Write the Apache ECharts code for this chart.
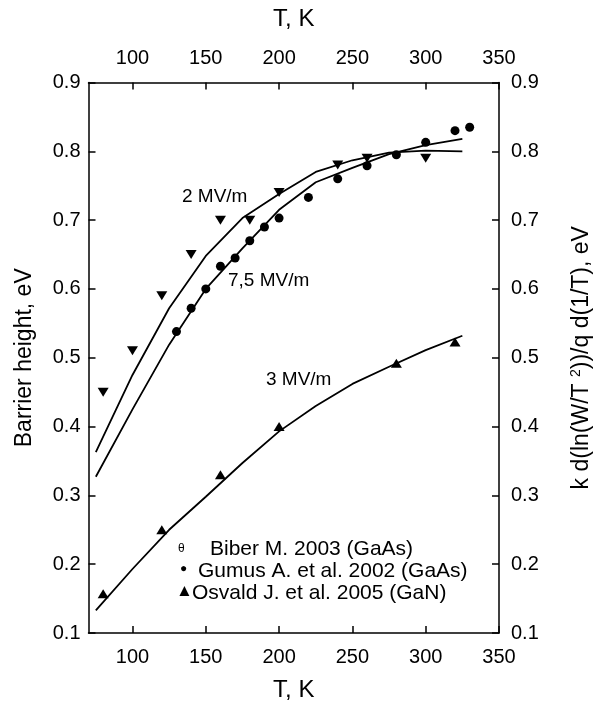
<!DOCTYPE html>
<html>
<head>
<meta charset="utf-8">
<script src="https://cdn.jsdelivr.net/npm/echarts@6/dist/echarts.min.js"></script>
<style>
  html, body { margin: 0; padding: 0; background: #fff; }
  #main { width: 599px; height: 709px; }
</style>
</head>
<body>
<div id="main"></div>
<script>
  // model curves, computed on a 25 K grid
  var curveT = [75, 100, 125, 150, 175, 200, 225, 250, 275, 300, 325];
  var curve2 = [0.363, 0.475, 0.572, 0.648, 0.703, 0.738, 0.770, 0.787, 0.798, 0.801, 0.800];
  var curve75 = [0.327, 0.425, 0.519, 0.600, 0.659, 0.715, 0.755, 0.776, 0.796, 0.809, 0.818];
  var curve3 = [0.133, 0.193, 0.250, 0.298, 0.347, 0.393, 0.430, 0.462, 0.487, 0.511, 0.532];

  // measured points
  var biberT = [80, 100, 120, 140, 160, 180, 200, 240, 260, 300];
  var biberV = [0.45, 0.51, 0.59, 0.65, 0.70, 0.70, 0.74, 0.78, 0.79, 0.79];
  var gumusT = [130, 140, 150, 160, 170, 180, 190, 200, 220, 240, 260, 280, 300, 320, 330];
  var gumusV = [0.538, 0.572, 0.600, 0.633, 0.645, 0.670, 0.690, 0.703, 0.733, 0.760, 0.779, 0.795, 0.813, 0.830, 0.835];
  var osvaldT = [80, 120, 160, 200, 280, 320];
  var osvaldV = [0.157, 0.250, 0.330, 0.400, 0.492, 0.523];

  var xTicks = [100, 150, 200, 250, 300, 350];

  function pairs(xs, ys) {
    return xs.map(function (x, i) { return [x, ys[i]]; });
  }

  var FONT = '"Liberation Sans", Arial, Helvetica, sans-serif';
  var myChart = echarts.init(document.getElementById('main'));

  function xAx(pos, gap) {
    return {
      type: 'value', position: pos, min: 70, max: 350,
      name: 'T, K', nameLocation: 'middle', nameGap: gap,
      nameTextStyle: { fontSize: 24, color: '#000', fontFamily: FONT },
      axisLine: { show: true, lineStyle: { color: '#000', width: 1.5 } },
      axisTick: { show: true, inside: true, length: 7, customValues: xTicks, lineStyle: { color: '#000', width: 1.5 } },
      axisLabel: { customValues: xTicks, margin: 14, fontSize: 20, color: '#000', fontFamily: FONT },
      splitLine: { show: false }
    };
  }

  function yAx(pos, name, gap, margin) {
    return {
      type: 'value', position: pos, min: 0.1, max: 0.9, interval: 0.1,
      name: name, nameLocation: 'middle', nameGap: gap,
      nameTextStyle: {
        fontSize: 23, color: '#000', fontFamily: FONT,
        rich: { sup: { fontSize: 14, verticalAlign: 'top', padding: [0, 0, 12, 0], fontFamily: FONT, color: '#000' } }
      },
      axisLine: { show: true, lineStyle: { color: '#000', width: 1.5 } },
      axisTick: { show: true, inside: true, length: 7, lineStyle: { color: '#000', width: 1.5 } },
      axisLabel: { margin: margin, fontSize: 20, color: '#000', fontFamily: FONT,
        formatter: function (v) { return v.toFixed(1); } },
      splitLine: { show: false }
    };
  }

  function curve(name, ys) {
    return {
      name: name, type: 'line', data: pairs(curveT, ys),
      showSymbol: false, smooth: false,
      lineStyle: { color: '#000', width: 1.8 }, z: 2
    };
  }

  function dots(name, data, symbol, size, rotate) {
    return {
      name: name, type: 'scatter', data: data,
      symbol: symbol, symbolSize: size, symbolRotate: rotate || 0,
      itemStyle: { color: '#000', opacity: 1 }, z: 3
    };
  }

  var txt = function (left, top, text, size) {
    return { type: 'text', left: left, top: top,
      style: { text: text, fontSize: size, fill: '#000', fontFamily: FONT } };
  };

  var option = {
    animation: false,
    backgroundColor: '#fff',
    grid: { left: 88.5, right: 100, top: 82.5, bottom: 76, containLabel: false, outerBoundsMode: 'none' },
    xAxis: [xAx('bottom', 45), xAx('top', 51)],
    yAxis: [
      yAx('left', 'Barrier height, eV', 52, 8),
      yAx('right', 'k d(ln(W/T {sup|2}))/q d(1/T), eV', 70, 12)
    ],
    series: [
      curve('2 MV/m', curve2),
      curve('7,5 MV/m', curve75),
      curve('3 MV/m', curve3),
      dots('Biber M. 2003 (GaAs)', pairs(biberT, biberV), 'triangle', [11, 9], 180),
      dots('Gumus A. et al. 2002 (GaAs)', pairs(gumusT, gumusV), 'circle', 9),
      dots('Osvald J. et al. 2005 (GaN)', pairs(osvaldT, osvaldV), 'triangle', [11, 9])
    ],
    graphic: [
      txt(182, 187, '2 MV/m', 19),
      txt(228, 271, '7,5 MV/m', 19),
      txt(266, 370, '3 MV/m', 19),
      // legend
      txt(178, 543, '\u03b8', 12),
      txt(210, 539, 'Biber M. 2003 (GaAs)', 21),
      txt(180, 563, '\u25cf', 12),
      txt(198, 561, 'Gumus A. et al. 2002 (GaAs)', 21),
      txt(176, 583, '\u25b2', 17),
      txt(192, 583, 'Osvald J. et al. 2005 (GaN)', 21)
    ]
  };
  myChart.setOption(option);
</script>
</body>
</html>
